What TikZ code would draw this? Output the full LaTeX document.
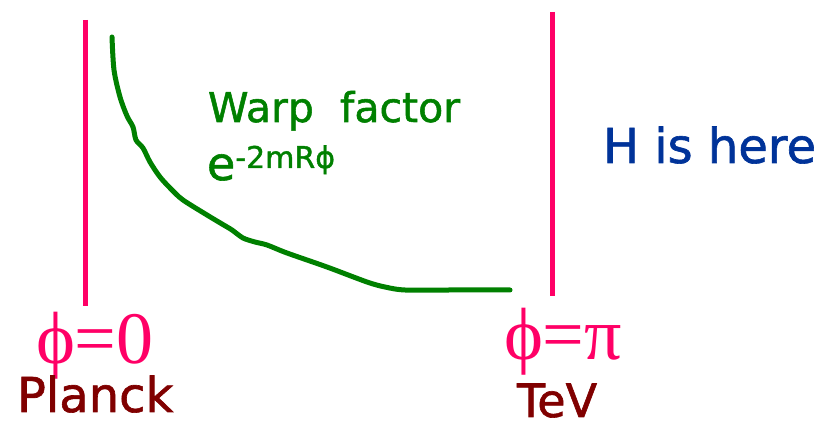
\documentclass[tikz,border=0pt]{standalone}
\usepackage{fontspec}
\setmainfont{DejaVu Sans}[FakeBold=1.3]
\newfontfamily\serifgr{Liberation Serif}
\definecolor{wall}{RGB}{255,0,102}
\definecolor{warp}{RGB}{0,128,0}
\definecolor{hblue}{RGB}{0,51,153}
\definecolor{brane}{RGB}{128,0,0}
\begin{document}
\begin{tikzpicture}[x=1pt,y=-1pt,
  wallline/.style={draw=wall,line width=5.5pt},
  curve/.style={draw=warp,line width=5pt,line cap=round,line join=round},
  lbl/.style={anchor=base west,inner sep=0pt,outer sep=0pt}]
\useasboundingbox (0,0) rectangle (825,427);
% branes
\coordinate (lt) at (85.5,20);
\coordinate (lb) at (85.5,306);
\coordinate (rt) at (552.5,12);
\coordinate (rb) at (552.5,296);
\draw[wallline] (lt) -- (lb);
\draw[wallline] (rt) -- (rb);
% warp factor curve
\draw[curve] plot[smooth,tension=0.5] coordinates {(112,37) (114,70) (120,97) (127,116) (133,127) (136,140) (143,148) (150,162) (160,177) (172,190) (183,200) (207,215) (222,224) (232,230) (243,238) (255,242) (267,245) (287,253) (327,267) (367,282) (385,287) (405,290) (450,290) (510,290)};
% texts
\node[lbl,text=warp,font=\fontsize{41}{41}\selectfont] (wf) at (208,122) {Warp\ \ factor};
\node[lbl,text=warp,font=\fontsize{46}{46}\selectfont] (ex) at (207,180) {e\raisebox{12pt}{\fontsize{30}{30}\selectfont -2mRϕ}};
\node[lbl,text=hblue,font=\fontsize{48}{48}\selectfont] (h) at (603,163) {H is here};
\node[lbl,text=wall,font=\serifgr\fontsize{74}{74}\selectfont] (p0) at (36,364) {ϕ=0};
\node[lbl,text=brane,font=\fontsize{48}{48}\selectfont] (pl) at (17,412) {Planck};
\node[lbl,text=wall,font=\serifgr\fontsize{74}{74}\selectfont] (pp) at (504,360) {ϕ=π};
\node[lbl,text=brane,font=\fontsize{46}{46}\selectfont] (tev) at (517,417) {TeV};
\end{tikzpicture}
\end{document}
